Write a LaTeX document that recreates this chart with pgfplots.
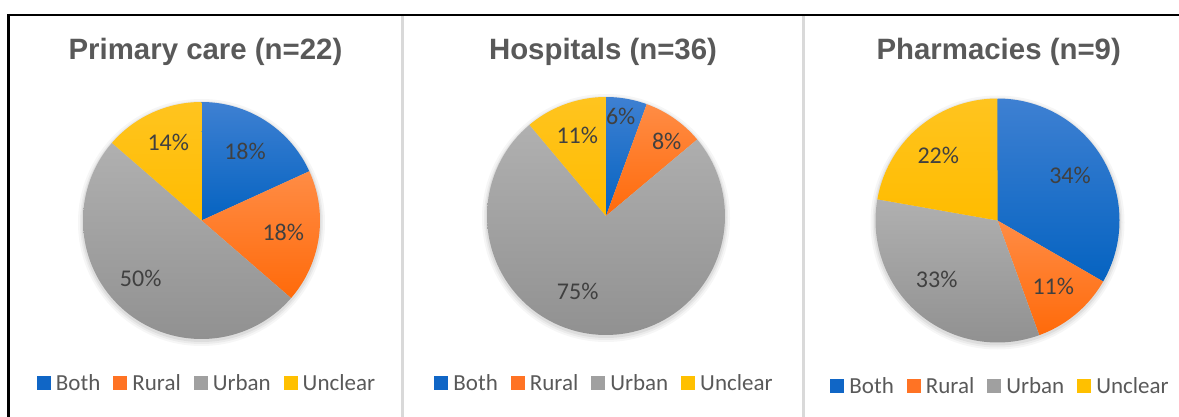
\documentclass[border=0pt]{standalone}
\usepackage{fontspec}
\setmainfont{Carlito}
\newfontfamily\arialfont{Liberation Sans}
\usepackage{pgfplots}
\pgfplotsset{compat=1.18}

\definecolor{bothT}{HTML}{3E80D2}
\definecolor{bothB}{HTML}{0563C1}
\definecolor{ruralT}{HTML}{FF8C45}
\definecolor{ruralB}{HTML}{FF6A0A}
\definecolor{urbanT}{HTML}{B0B0B0}
\definecolor{urbanB}{HTML}{919191}
\definecolor{unclT}{HTML}{FFC41F}
\definecolor{unclB}{HTML}{FFBC00}
\definecolor{bothC}{HTML}{1066C6}
\definecolor{ruralC}{HTML}{FF7324}
\definecolor{urbanC}{HTML}{A0A0A0}
\definecolor{unclC}{HTML}{FFC000}
\definecolor{titlec}{HTML}{595959}
\definecolor{legtxt}{HTML}{595959}
\definecolor{lblc}{HTML}{404040}
\definecolor{sepc}{HTML}{D9D9D9}

\tikzset{
  lbl/.style={font=\fontsize{24}{28}\selectfont, text=lblc, text height=15pt, text depth=0pt, inner sep=0pt, anchor=center},
  ttl/.style={font=\arialfont\bfseries\fontsize{29.4}{33}\selectfont, text=titlec, anchor=base},
}
\pgfplotsset{
  bothS/.style={draw=none, top color=bothT, bottom color=bothB},
  ruralS/.style={draw=none, top color=ruralT, bottom color=ruralB},
  urbanS/.style={draw=none, top color=urbanT, bottom color=urbanB},
  unclS/.style={draw=none, top color=unclT, bottom color=unclB},
  panel/.style={
    scale only axis, height=417pt, ymin=0, ymax=417, y dir=reverse,
    hide axis, clip=false,
    legend columns=4,
    legend image code/.code={\fill[##1] (0pt,-7pt) rectangle (14pt,7pt);},
    legend style={draw=none, fill=none, anchor=center,
      font=\fontsize{23}{27}\selectfont, text=legtxt,
      column sep=0pt,
      nodes={inner xsep=5pt, inner ysep=0pt},
      /tikz/every even column/.append style={column sep=8pt}},
  },
}

% cx cy r from to n style
\newcommand{\pieslice}[7]{%
  \addplot[forget plot, #7, domain={90-360*(#5)/(#6)}:{90-360*(#4)/(#6)}, samples=100]
    ({#1+#3*cos(x)},{#2-#3*sin(x)}) -- (axis cs:#1,#2) -- cycle;}
% cx cy r n  both rural urban unclear (counts)
\newcommand{\pie}[8]{%
  \fill[black, opacity=0.035] (axis cs:#1,#2+2) circle[radius=#3+5];
  \fill[black, opacity=0.045] (axis cs:#1,#2+2) circle[radius=#3+3];
  \fill[black, opacity=0.06] (axis cs:#1,#2+1.5) circle[radius=#3+1.5];
  \pieslice{#1}{#2}{#3}{0}{#5}{#4}{bothS}
  \pieslice{#1}{#2}{#3}{#5}{#5+#6}{#4}{ruralS}
  \pieslice{#1}{#2}{#3}{#5+#6}{#5+#6+#7}{#4}{urbanS}
  \pieslice{#1}{#2}{#3}{#5+#6+#7}{#4}{#4}{unclS}
  \addlegendimage{fill=bothC, draw=none}\addlegendentry{Both}
  \addlegendimage{fill=ruralC, draw=none}\addlegendentry{Rural}
  \addlegendimage{fill=urbanC, draw=none}\addlegendentry{Urban}
  \addlegendimage{fill=unclC, draw=none}\addlegendentry{Unclear}
}

\begin{document}
\begin{tikzpicture}
\useasboundingbox (0,0) rectangle (1179pt,417pt);

% Primary care (n=22): Both 4, Rural 4, Urban 11, Unclear 3
\begin{axis}[panel, width=403pt, xmin=0, xmax=403, at={(0pt,0pt)}, anchor=south west,
  legend style={at={(0.5174,0.0815)}}]
  \pie{201.5}{220.5}{118.5}{22}{4}{4}{11}{3}
  \node[ttl] at (axis cs:205.5,60) {Primary care (n=22)};
  \node[lbl] at (axis cs:245,151.7) {18\%};
  \node[lbl] at (axis cs:283.3,233.3) {18\%};
  \node[lbl] at (axis cs:140.7,279.3) {50\%};
  \node[lbl] at (axis cs:168.3,143.3) {14\%};
\end{axis}

% Hospitals (n=36): Both 2, Rural 3, Urban 27, Unclear 4
\begin{axis}[panel, width=400pt, xmin=403, xmax=803, at={(403pt,0pt)}, anchor=south west,
  legend style={at={(0.5075,0.0815)}}]
  \pie{606}{216}{119}{36}{2}{3}{27}{4}
  \node[ttl] at (axis cs:603,60) {Hospitals (n=36)};
  \node[lbl] at (axis cs:620.7,116.7) {6\%};
  \node[lbl] at (axis cs:666.7,141.7) {8\%};
  \node[lbl] at (axis cs:577.7,291.7) {75\%};
  \node[lbl] at (axis cs:577.3,135.7) {11\%};
\end{axis}

% Pharmacies (n=9): Both 3, Rural 1, Urban 3, Unclear 2
\begin{axis}[panel, width=376pt, xmin=803, xmax=1179, at={(803pt,0pt)}, anchor=south west,
  legend style={at={(0.5293,0.0743)}}]
  \pie{997.5}{220.5}{122}{9}{3}{1}{3}{2}
  \node[ttl] at (axis cs:998.7,60) {Pharmacies (n=9)};
  \node[lbl] at (axis cs:1070,175.7) {34\%};
  \node[lbl] at (axis cs:1053.3,286.7) {11\%};
  \node[lbl] at (axis cs:936.7,280) {33\%};
  \node[lbl] at (axis cs:938.3,155.7) {22\%};
\end{axis}

% frame and separators
\draw[sepc, line width=3pt] (402.5pt,401pt) -- (402.5pt,0pt);
\draw[sepc, line width=3pt] (803.5pt,401pt) -- (803.5pt,0pt);
\draw[black, line width=2.2pt] (8.5pt,402pt) -- (1179pt,402pt);
\draw[black, line width=2.2pt] (8.5pt,403.1pt) -- (8.5pt,0pt);
\end{tikzpicture}
\end{document}
